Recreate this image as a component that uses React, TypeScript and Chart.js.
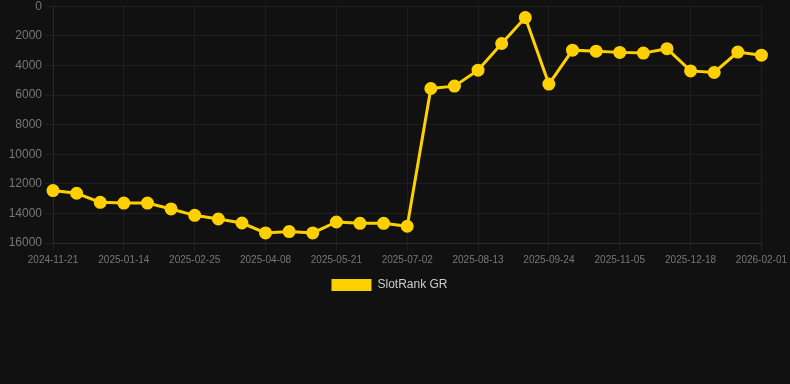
import React, { useEffect, useRef } from "react";
import { Chart, registerables } from "chart.js";

Chart.register(...registerables);

const labels: string[] = [
  "2024-11-21", "2024-12-09", "2024-12-27", "2025-01-14", "2025-01-28", "2025-02-11",
  "2025-02-25", "2025-03-11", "2025-03-25", "2025-04-08", "2025-04-22", "2025-05-07",
  "2025-05-21", "2025-06-04", "2025-06-18", "2025-07-02", "2025-07-16", "2025-07-30",
  "2025-08-13", "2025-08-27", "2025-09-10", "2025-09-24", "2025-10-08", "2025-10-22",
  "2025-11-05", "2025-11-19", "2025-12-03", "2025-12-18", "2026-01-02", "2026-01-17",
  "2026-02-01",
];

const rankValues: number[] = [
  12460, 12640, 13250, 13300, 13300, 13700, 14130, 14380, 14650, 15320, 15230, 15320,
  14580, 14670, 14670, 14870, 5560, 5400, 4320, 2520, 770, 5265, 2970, 3040,
  3120, 3170, 2870, 4370, 4480, 3100, 3310,
];

const seriesName = "SlotRank GR";
const yTicks = { min: 0, max: 16000, step: 2000 };

export default function App() {
  const ref = useRef<HTMLCanvasElement | null>(null);
  useEffect(() => {
    document.body.style.margin = "0";
    document.body.style.background = "#111111";
    const font = "Arial, 'Liberation Sans', Helvetica, sans-serif";
    const chart = new Chart(ref.current!, {
      type: "line",
      data: {
        labels,
        datasets: [
          {
            label: seriesName,
            data: rankValues,
            borderColor: "#FFD000",
            backgroundColor: "#FFD000",
            pointBackgroundColor: "#FFD000",
            pointBorderColor: "#FFD000",
            borderWidth: 3,
            pointRadius: 5,
            tension: 0,
          },
        ],
      },
      options: {
        animation: false,
        responsive: false,
        maintainAspectRatio: false,
        layout: { padding: { left: 0, right: 11, top: 0, bottom: 0 } },
        scales: {
          x: {
            grid: { color: "#1f1f1f" },
            border: { color: "#2a2a2a" },
            ticks: {
              color: "#777777",
              font: { family: font, size: 10 },
              maxRotation: 0,
              autoSkip: true,
              maxTicksLimit: 11,
            },
          },
          y: {
            reverse: true,
            min: yTicks.min,
            max: yTicks.max,
            grid: { color: "#1f1f1f" },
            border: { color: "#2a2a2a" },
            afterFit: (scale: any) => {
              scale.width = 53;
            },
            ticks: {
              stepSize: yTicks.step,
              color: "#777777",
              font: { family: font, size: 12 },
              callback: (v: any) => String(v),
            },
          },
        },
        plugins: {
          legend: {
            position: "bottom",
            labels: {
              color: "#cccccc",
              font: { family: font, size: 12 },
              boxWidth: 40,
              boxHeight: 12,
              generateLabels: (c: any) =>
                Chart.defaults.plugins.legend.labels
                  .generateLabels(c)
                  .map((l: any) => ({ ...l, lineWidth: 0, strokeStyle: "rgba(0,0,0,0)" })),
            },
          },
          tooltip: { enabled: false },
        },
      },
    });
    return () => chart.destroy();
  }, []);
  return (
    <div style={{ position: "absolute", left: 0, top: 0, width: 790, height: 384, background: "#111111", overflow: "hidden" }}>
      <canvas ref={ref} width={790} height={305} style={{ display: "block", position: "absolute", left: 0, top: -4 }} />
    </div>
  );
}
